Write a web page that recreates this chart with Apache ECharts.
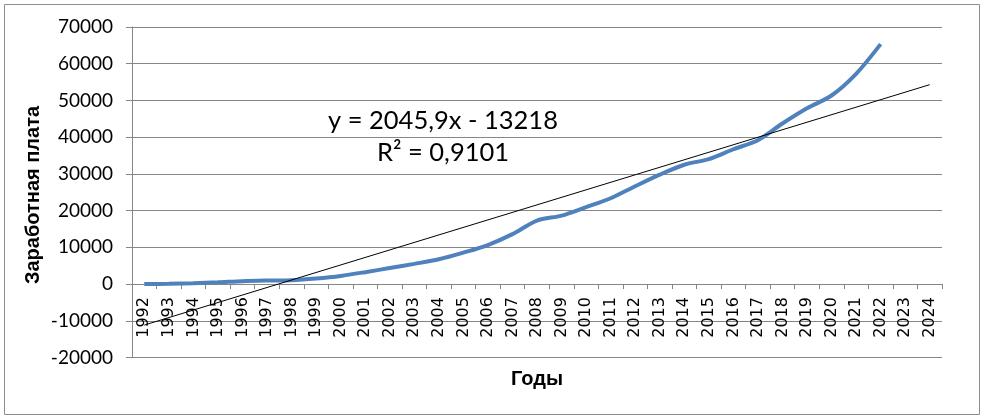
<!DOCTYPE html>
<html>
<head>
<meta charset="utf-8">
<script src="https://cdn.jsdelivr.net/npm/echarts@6/dist/echarts.min.js"></script>
<style>
html,body{margin:0;padding:0;background:#fff;}
#chart{width:983px;height:418px;}
</style>
</head>
<body>
<div id="chart"></div>
<script>
var years = ['1992','1993','1994','1995','1996','1997','1998','1999','2000','2001','2002','2003','2004','2005','2006','2007','2008','2009','2010','2011','2012','2013','2014','2015','2016','2017','2018','2019','2020','2021','2022','2023','2024'];
var wages = [6,59,220,472,790,950,1052,1523,2223,3240,4360,5499,6740,8555,10634,13593,17290,18638,20952,23369,26629,29792,32495,34030,36709,39167,43724,47867,51344,57244,65338];
// linear trend endpoints (y = 2045,9x - 13218 at x=1 and x=33)
var trendStart = -11172;
var trendEnd = 54297;
var yTicks = [-20000, 70000, 10000];
var eqLine1 = 'y = 2045,9x - 13218';
var eqLine2 = 'R² = 0,9101';
var yTitle = 'Заработная плата';
var xTitle = 'Годы';

var trend = years.map(function(_, i){ return i === 0 ? trendStart : (i === years.length - 1 ? trendEnd : null); });

var chart = echarts.init(document.getElementById('chart'));
var gray = '#868686';
var gridTop = 27, gridBottom = 60.5, plotH = 418 - gridTop - gridBottom;
var zeroOffset = -plotH * (0 - yTicks[0]) / (yTicks[1] - yTicks[0]);
chart.setOption({
  animation: false,
  backgroundColor: '#fff',
  grid: {left: 132, right: 41, top: gridTop, bottom: gridBottom},
  xAxis: {
    type: 'category',
    data: years,
    boundaryGap: true,
    position: 'bottom',
    offset: zeroOffset,
    axisLine: {onZero: false, lineStyle: {color: gray, width: 1}},
    axisTick: {show: true, interval: 0, length: 5, alignWithLabel: false, lineStyle: {color: gray}},
    axisLabel: {interval: 0, rotate: 90, margin: 13, color: '#000', fontFamily: 'DejaVu Sans', fontSize: 16},
    splitLine: {show: false}
  },
  yAxis: {
    type: 'value',
    min: yTicks[0], max: yTicks[1], interval: yTicks[2],
    axisLine: {show: true, lineStyle: {color: gray, width: 1}},
    axisTick: {show: true, length: 6, lineStyle: {color: gray}},
    axisLabel: {margin: 19, color: '#000', fontFamily: 'Lato', fontSize: 19, formatter: function(v){ return String(v); }},
    splitLine: {show: true, lineStyle: {color: gray, width: 1}}
  },
  series: [
    {
      type: 'line', data: wages, smooth: 0.3, showSymbol: false, symbol: 'none',
      lineStyle: {color: '#4f81bd', width: 4}, z: 3
    },
    {
      type: 'line', data: trend, connectNulls: true, showSymbol: false, symbol: 'none',
      lineStyle: {color: '#000', width: 1}, z: 4
    }
  ],
  graphic: [
    {type: 'rect', shape: {x: 4.5, y: 4.5, width: 975, height: 410}, style: {fill: 'none', stroke: '#8c8c8c', lineWidth: 1}, silent: true, z: -1},
    {type: 'text', x: 443, y: 121, style: {text: eqLine1, font: '25.5px Lato', fill: '#000', textAlign: 'center', textVerticalAlign: 'middle'}},
    {type: 'text', x: 443, y: 153, style: {text: eqLine2, font: '25.5px Lato', fill: '#000', textAlign: 'center', textVerticalAlign: 'middle'}},
    {type: 'text', x: 33, y: 195, rotation: Math.PI/2, style: {text: yTitle, font: 'bold 20px "Liberation Sans"', fill: '#000', textAlign: 'center', textVerticalAlign: 'middle'}},
    {type: 'text', x: 537, y: 379, style: {text: xTitle, font: 'bold 20px "Liberation Sans"', fill: '#000', textAlign: 'center', textVerticalAlign: 'middle'}}
  ]
});
</script>
</body>
</html>
